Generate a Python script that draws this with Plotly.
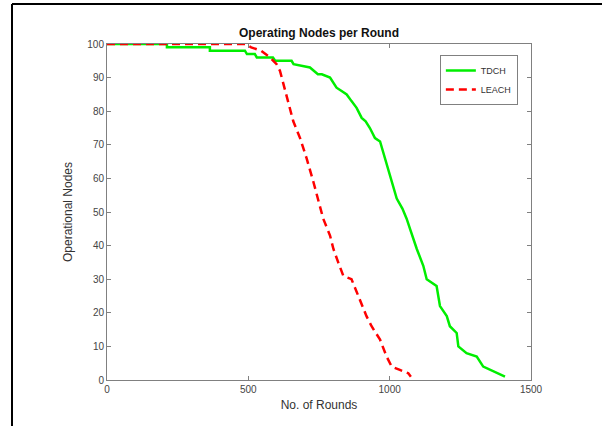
import plotly.graph_objects as go

# Data
tdch_rounds = [0, 212, 212, 364, 364, 488, 495, 523, 530, 587, 595, 653, 660, 718, 746, 760,
               789, 812, 830, 848, 865, 883, 901, 915, 930, 948, 966, 983, 1001, 1025, 1045,
               1060, 1072, 1096, 1119, 1131, 1166, 1178, 1202, 1213, 1237, 1243, 1272, 1308,
               1331, 1355, 1384, 1408]
tdch_nodes = [100, 100, 99, 99, 98, 98, 97, 97, 96, 96, 95, 95, 94, 93, 91, 91,
              90, 87, 86, 85, 83, 81, 78, 77, 75, 72, 71, 66, 61, 54, 51,
              48, 45, 39, 34, 30, 28, 22, 19, 16, 14, 10, 8, 7,
              4, 3, 2, 1]

leach_rounds = [0, 490, 510, 545, 577, 600, 612, 624, 641, 659, 683, 706, 730, 753, 765,
                789, 801, 818, 836, 865, 895, 918, 936, 966, 989, 1007, 1036, 1066, 1075]
leach_nodes = [100, 100, 99, 98, 96, 94, 92, 88, 83, 77, 72, 66, 59, 52, 48,
               43, 39, 35, 31, 30, 24, 19, 16, 12, 7, 4, 3, 2, 1]

x_ticks = [0, 500, 1000, 1500]
y_ticks = [0, 10, 20, 30, 40, 50, 60, 70, 80, 90, 100]

fig = go.Figure()
fig.add_trace(go.Scatter(x=tdch_rounds, y=tdch_nodes, mode="lines", name="TDCH",
                         line=dict(color="#00ee00", width=2.5)))
fig.add_trace(go.Scatter(x=leach_rounds, y=leach_nodes, mode="lines", name="LEACH",
                         line=dict(color="#ff0000", width=2.5, dash="8px,5px")))

axis_common = dict(showgrid=False, zeroline=False, showline=True, linecolor="#808080",
                   linewidth=1, mirror="ticks", ticks="inside", ticklen=4,
                   tickcolor="#808080", tickfont=dict(size=10, color="#444444"))

fig.update_layout(
    width=602, height=426,
    margin=dict(l=107, r=71, t=44, b=46),
    paper_bgcolor="white", plot_bgcolor="white",
    font=dict(family="Liberation Sans, Arial, sans-serif", color="#333333"),
    title=dict(text="<b>Operating Nodes per Round</b>", x=(319 / 602), xanchor="center",
               y=1 - 33 / 426, yanchor="middle", font=dict(size=12, color="#111111")),
    xaxis=dict(range=[0, 1500], tickvals=x_ticks,
               title=dict(text="No. of Rounds", font=dict(size=12, color="#333333"), standoff=6),
               **axis_common),
    yaxis=dict(range=[0, 100], tickvals=y_ticks,
               title=dict(text="Operational Nodes", font=dict(size=12, color="#333333"), standoff=12),
               **axis_common),
    legend=dict(x=0.969, xanchor="right", y=0.967, yanchor="top",
                bgcolor="white", bordercolor="#808080", borderwidth=1,
                font=dict(size=9, color="#333333"), tracegroupgap=0),
    showlegend=True,
)

# Outer frame (left and top edges visible in reference)
fx = (12 - 107) / 424
fy = (380 - 4) / 336
fig.add_shape(type="line", xref="paper", yref="paper", x0=fx, x1=fx, y0=-0.3, y1=fy,
              line=dict(color="black", width=2))
fig.add_shape(type="line", xref="paper", yref="paper", x0=fx, x1=1.3, y0=fy, y1=fy,
              line=dict(color="black", width=2))

fig.write_html("out.html", config={"displayModeBar": False},
               post_script="document.body.style.margin='0';")
